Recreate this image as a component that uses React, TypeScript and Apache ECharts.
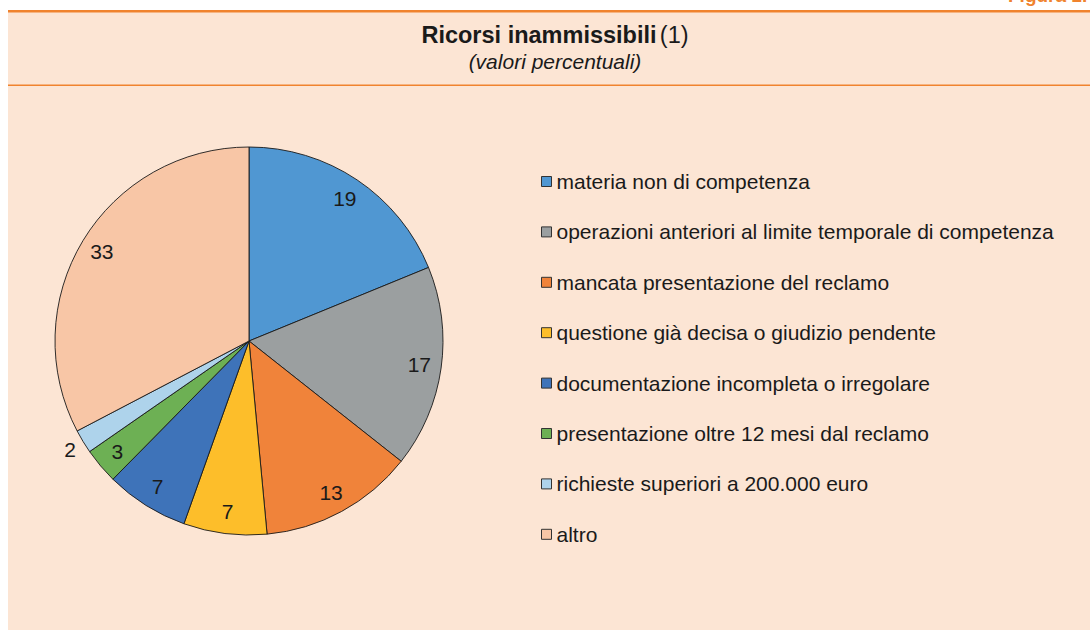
import React, { useEffect, useRef } from "react";
import * as echarts from "echarts";

const categories = [
  "materia non di competenza",
  "operazioni anteriori al limite temporale di competenza",
  "mancata presentazione del reclamo",
  "questione già decisa o giudizio pendente",
  "documentazione incompleta o irregolare",
  "presentazione oltre 12 mesi dal reclamo",
  "richieste superiori a 200.000 euro",
  "altro",
];
const values = [19, 17, 13, 7, 7, 3, 2, 33];
const palette = ["#5097D2", "#9B9FA0", "#F0833A", "#FDBE2A", "#3E73B9", "#6DB054", "#AED3EB", "#F8C6A6"];
const titleBold = "Ricorsi inammissibili";
const titleNote = "(1)";
const subtitle = "(valori percentuali)";
const figureLabel = "Figura 1.";
const outsideLabelIndex = 6;

const FONT = "'Liberation Sans', Arial, Helvetica, sans-serif";

export default function App() {
  const ref = useRef<HTMLDivElement>(null);
  useEffect(() => {
    document.body.style.margin = "0";
    const chart = echarts.init(ref.current!, null, { renderer: "svg" });
    const cx = 249, cy = 341, r = 194;
    const mainData = categories.map((name, i) => ({
      name,
      value: values[i],
      itemStyle: { color: palette[i] },
    }));
    const innerLabels = values.map((v, i) => ({
      name: "lbl-in-" + i,
      value: v,
      label: { show: i !== outsideLabelIndex },
    }));
    const outerLabels = values.map((v, i) => ({
      name: "lbl-out-" + i,
      value: v,
      label: { show: i === outsideLabelIndex },
    }));
    const overlayBase = {
      type: "pie",
      center: [cx, cy],
      silent: true,
      avoidLabelOverlap: false,
      startAngle: 90,
      itemStyle: { color: "rgba(0,0,0,0)", borderWidth: 0 },
      labelLine: { show: false },
      emphasis: { disabled: true },
      label: {
        position: "inside",
        color: "#1a1a1a",
        fontSize: 21,
        fontFamily: FONT,
        formatter: (p: any) => String(p.value),
      },
    };
    chart.setOption({
      animation: false,
      backgroundColor: "#ffffff",
      graphic: [
        { type: "rect", shape: { x: 8, y: 10, width: 1082, height: 620 }, style: { fill: "#FCE5D4" }, z: -10 },
        { type: "rect", shape: { x: 8, y: 10, width: 1082, height: 2.5 }, style: { fill: "#F0832E" }, z: -5 },
        { type: "rect", shape: { x: 8, y: 84.5, width: 1082, height: 1.5 }, style: { fill: "#F0832E" }, z: -5 },
        {
          type: "text", x: 1008, y: 5,
          style: { text: figureLabel, fill: "#F0832E", font: `bold 19px ${FONT}`, textAlign: "left", textVerticalAlign: "bottom" },
        },
        {
          type: "text", x: 555, y: 35,
          style: {
            text: `{b|${titleBold}} {r|${titleNote}}`,
            textAlign: "center", textVerticalAlign: "middle",
            rich: {
              b: { fontSize: 23.5, fontWeight: "bold", fontFamily: FONT, fill: "#1a1a1a" },
              r: { fontSize: 23.5, fontFamily: FONT, fill: "#1a1a1a" },
            },
          },
        },
        {
          type: "text", x: 555, y: 61,
          style: { text: subtitle, font: `italic 21px ${FONT}`, fill: "#1a1a1a", textAlign: "center", textVerticalAlign: "middle" },
        },
      ],
      legend: {
        data: categories,
        orient: "vertical",
        left: 536,
        top: 166,
        itemWidth: 10,
        itemHeight: 10,
        itemGap: 29.4,
        icon: "rect",
        selectedMode: false,
        itemStyle: { borderColor: "#333", borderWidth: 1 },
        textStyle: { fontSize: 21, lineHeight: 20, fontFamily: FONT, color: "#1a1a1a", padding: [0, 0, 0, 0] },
      },
      series: [
        {
          type: "pie",
          name: "main",
          center: [cx, cy],
          radius: r,
          startAngle: 90,
          silent: true,
          avoidLabelOverlap: false,
          itemStyle: { borderColor: "#1a1a1a", borderWidth: 0.9 },
          label: { show: false },
          labelLine: { show: false },
          emphasis: { disabled: true },
          data: mainData,
        },
        { ...overlayBase, name: "labels-in", radius: 338, data: innerLabels },
        { ...overlayBase, name: "labels-out", radius: 412, data: outerLabels },
      ],
    });
    return () => chart.dispose();
  }, []);
  return <div ref={ref} style={{ width: 1090, height: 630 }} />;
}
